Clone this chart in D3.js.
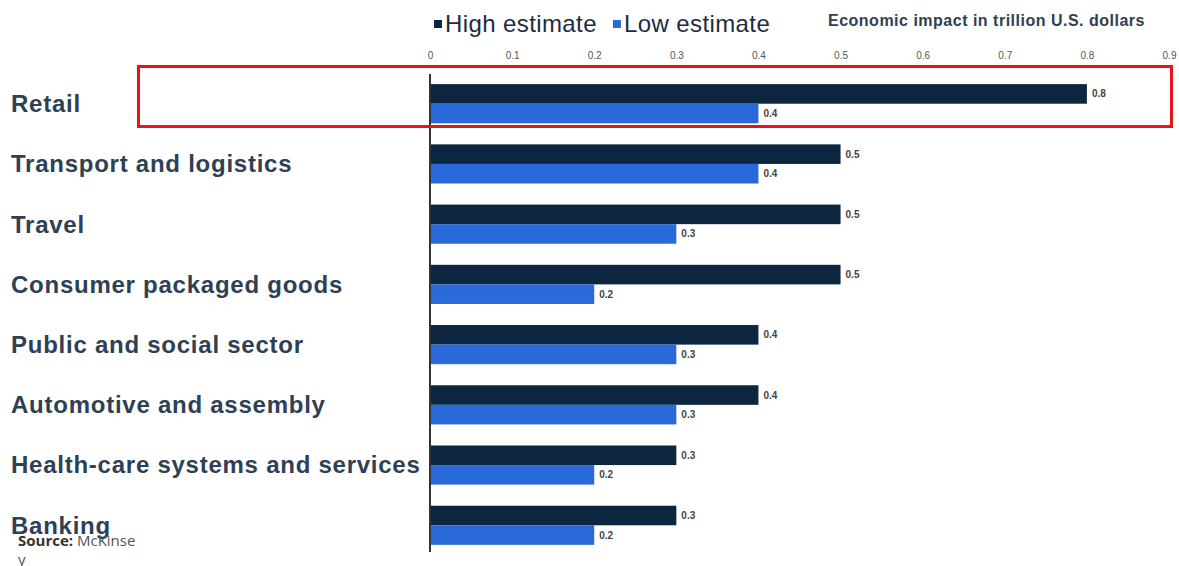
<!DOCTYPE html>
<html lang="en">
<head>
<meta charset="UTF-8">
<title>Economic impact by sector</title>
<script src="https://d3js.org/d3.v7.min.js"></script>
<style>
    body { margin: 0; background: #fff; }
    svg { display: block; }
</style>
</head>
<body>
<svg width="1179" height="566"></svg>
<script>
    // data
    const categories = ["Retail", "Transport and logistics", "Travel", "Consumer packaged goods",
        "Public and social sector", "Automotive and assembly", "Health-care systems and services", "Banking"];
    const highEstimate = [0.8, 0.5, 0.5, 0.5, 0.4, 0.4, 0.3, 0.3];
    const lowEstimate = [0.4, 0.4, 0.3, 0.2, 0.3, 0.3, 0.2, 0.2];
    const seriesNames = ["High estimate", "Low estimate"];
    const tickValues = [0, 0.1, 0.2, 0.3, 0.4, 0.5, 0.6, 0.7, 0.8, 0.9];

    const colors = { "High estimate": "#0c2640", "Low estimate": "#2a69d9" };
    const textColor = "#2e4054";

    const svg = d3.select("svg");

    const x = d3.scaleLinear().domain([0, 0.9]).range([430, 1169]);
    const y = d3.scaleBand().domain(categories).range([74.5, 554.5])
        .paddingInner(0.35).paddingOuter(0.16);
    const ySub = d3.scaleBand().domain(seriesNames).range([0, y.bandwidth()]);

    const rows = categories.map((c, i) => ({ cat: c, vals: [
        { s: "High estimate", v: highEstimate[i] },
        { s: "Low estimate", v: lowEstimate[i] }
    ] }));

    // top axis
    const axis = svg.append("g")
        .attr("transform", "translate(0,62)")
        .call(d3.axisTop(x).tickValues(tickValues).tickSize(0).tickFormat(d3.format("")));
    axis.select(".domain").remove();
    axis.selectAll("text")
        .attr("fill", "#555")
        .style("font", "10px 'Liberation Sans', sans-serif");

    // bars
    const grp = svg.selectAll(".grp").data(rows).enter().append("g")
        .attr("class", "grp")
        .attr("transform", d => `translate(0,${y(d.cat)})`);

    grp.selectAll("rect").data(d => d.vals).enter().append("rect")
        .attr("x", x(0))
        .attr("y", d => ySub(d.s))
        .attr("width", d => x(d.v) - x(0))
        .attr("height", ySub.bandwidth())
        .attr("fill", d => colors[d.s]);

    grp.selectAll(".val").data(d => d.vals).enter().append("text")
        .attr("class", "val")
        .attr("x", d => x(d.v) + 5)
        .attr("y", d => ySub(d.s) + ySub.bandwidth() / 2)
        .attr("dy", "0.35em")
        .attr("fill", "#444")
        .style("font", "bold 10px 'Liberation Sans', sans-serif")
        .text(d => d.v);

    // category labels
    grp.append("text")
        .attr("x", 11)
        .attr("y", y.bandwidth() / 2)
        .attr("dy", "0.35em")
        .attr("fill", textColor)
        .style("font", "bold 24px 'Liberation Sans', sans-serif")
        .style("letter-spacing", "0.75px")
        .text(d => d.cat);

    // vertical axis line
    svg.append("line")
        .attr("x1", x(0)).attr("x2", x(0))
        .attr("y1", 74).attr("y2", 552)
        .attr("stroke", "#333").attr("stroke-width", 2);

    // legend
    const leg = svg.append("g").attr("transform", "translate(434,24)");
    let lx = 0;
    seriesNames.forEach(s => {
        leg.append("rect").attr("x", lx).attr("y", -4).attr("width", 8).attr("height", 8)
            .attr("fill", colors[s]);
        const t = leg.append("text").attr("x", lx + 11).attr("y", 0).attr("dy", "0.35em")
            .attr("fill", "#1c2d40")
            .style("font", "24px 'Liberation Sans', sans-serif")
            .style("letter-spacing", "0.4px")
            .text(s);
        lx += 11 + t.node().getComputedTextLength() + 16;
    });

    svg.append("text")
        .attr("x", 828).attr("y", 20).attr("dy", "0.35em")
        .attr("fill", textColor)
        .style("font", "bold 16px 'Liberation Sans', sans-serif")
        .style("letter-spacing", "0.5px")
        .text("Economic impact in trillion U.S. dollars");

    // highlight box
    svg.append("rect")
        .attr("x", 138.5).attr("y", 66.5).attr("width", 1033).attr("height", 60)
        .attr("fill", "none").attr("stroke", "#e8141b").attr("stroke-width", 3);

    // source
    const src = svg.append("text")
        .attr("x", 18).attr("y", 546)
        .attr("fill", "#555")
        .style("font", "15px 'Open Sans', sans-serif");
    src.append("tspan").attr("font-weight", "bold").attr("fill", "#333").text("Source: ");
    src.append("tspan").text("McKinse");
    svg.append("text").attr("x", 18).attr("y", 565).attr("fill", "#555")
        .style("font", "15px 'Open Sans', sans-serif").text("y");
</script>
</body>
</html>
